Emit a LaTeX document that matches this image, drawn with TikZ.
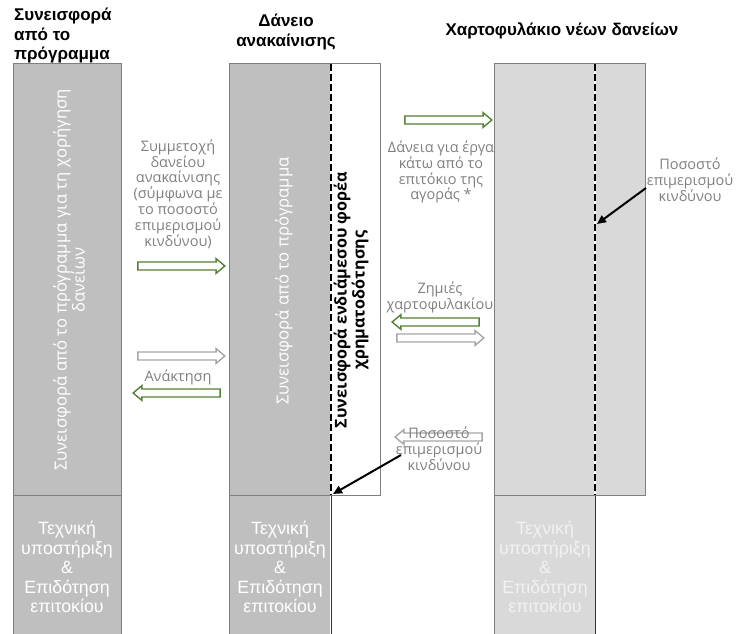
\documentclass[tikz,border=0pt]{standalone}
\usepackage{fontspec}
\setmainfont{Liberation Sans}
\newfontfamily\gothic{Open Sans}
\usetikzlibrary{shapes.arrows,arrows.meta}
\definecolor{fillA}{HTML}{BFBFBF}
\definecolor{fillB}{HTML}{D9D9D9}
\definecolor{edgec}{HTML}{7F7F7F}
\definecolor{txtgray}{HTML}{808080}
\definecolor{arrgreen}{HTML}{548235}
\definecolor{arrgray}{HTML}{A6A6A6}
\definecolor{paletxt}{HTML}{F2F2F2}
\begin{document}
\begin{tikzpicture}[x=1pt,y=-1pt,
  colbox/.style={draw=edgec,line width=1pt},
  blockarrow/.style={single arrow,minimum height=87pt,inner xsep=0pt,inner ysep=3.3pt,
    single arrow head extend=3.4pt,single arrow tip angle=80,fill=white,line width=1.4pt},
  greenarrow/.style={blockarrow,draw=arrgreen},
  grayarrow/.style={blockarrow,draw=arrgray},
  leftward/.style={shape border rotate=180},
  lbl/.style={text=txtgray,font=\gothic\fontsize{14.5}{15.8}\selectfont,align=center,inner sep=0pt},
  head/.style={font=\bfseries\fontsize{17}{19.5}\selectfont,inner sep=0pt},
  vtext/.style={rotate=90,font=\gothic\fontsize{16.7}{18}\selectfont,align=center,inner sep=0pt},
  foot/.style={font=\fontsize{17.8}{19.5}\selectfont,align=center,inner sep=0pt},
  riskline/.style={dash pattern=on 7pt off 3pt,line width=2.3pt},
  pointer/.style={line width=2pt,-{Triangle[length=9pt,width=8pt]}}]
\useasboundingbox (0,0) rectangle (737,634);

% headers
\node[head,anchor=west,align=left] (h1) at (14,36) {Συνεισφορά\\από το\\πρόγραμμα};
\node[head,align=center] (h2) at (286,32) {Δάνειο\\ανακαίνισης};
\node[head] (h3) at (562,31) {Χαρτοφυλάκιο νέων δανείων};

% column 1
\fill[fillA] (13,64) rectangle (121,634);
\draw[colbox] (13,634) -- (13,64) -- (121,64) -- (121,634);
\draw[colbox] (13,495.5) -- (121,495.5);
\node[vtext,text=white] (c1) at (69,280) {Συνεισφορά από το πρόγραμμα για τη χορήγηση\\δανείων};
\node[foot,text=white] (f1) at (67,567) {Τεχνική\\υποστήριξη\\\&\\Επιδότηση\\επιτοκίου};

% column 2
\fill[fillA] (229,64) rectangle (330,634);
\fill[white] (330,64) rectangle (380,495.5);
\draw[colbox] (229,634) -- (229,64) -- (380,64) -- (380,495.5) -- (229,495.5);
\draw[line width=1pt,black!80] (331,495.5) -- (331,634);
\draw[white,line width=2.3pt] (331,64) -- (331,495);
\draw[riskline] (331,64) -- (331,495);
\node[vtext,text=white] (c2) at (284,281) {Συνεισφορά από το πρόγραμμα};
\node[vtext,font=\gothic\bfseries\fontsize{16.2}{18}\selectfont] (c2b) at (351,300) {Συνεισφορά ενδιάμεσου φορέα\\χρηματοδότησης};
\node[foot,text=white] (f2) at (280,567) {Τεχνική\\υποστήριξη\\\&\\Επιδότηση\\επιτοκίου};

% column 3
\fill[fillB] (494,64) rectangle (645,495.5);
\fill[fillB] (494,495.5) rectangle (595,634);
\draw[colbox] (494,634) -- (494,64) -- (645,64) -- (645,495.5) -- (494,495.5);
\draw[line width=1pt,black!80] (595,495.5) -- (595,634);
\draw[white,line width=2.3pt] (595,64) -- (595,495);
\draw[riskline] (595,64) -- (595,495);
\node[foot,text=paletxt] (f3) at (545,567) {Τεχνική\\υποστήριξη\\\&\\Επιδότηση\\επιτοκίου};

% left gap labels and arrows
\node[lbl] (l1) at (178,194) {Συμμετοχή\\δανείου\\ανακαίνισης\\(σύμφωνα με\\το ποσοστό\\επιμερισμού\\κινδύνου)};
\node[greenarrow] (a1) at (179,266) {};
\node[grayarrow] (a2) at (179,356) {};
\node[lbl] (l2) at (178,377) {Ανάκτηση};
\node[greenarrow,leftward] (a3) at (179,393) {};

% middle gap labels and arrows
\node[greenarrow] (a4) at (446,120) {};
\node[lbl] (l3) at (441,172) {Δάνεια για έργα\\κάτω από το\\επιτόκιο της\\αγοράς *};
\node[lbl] (l4) at (440,297) {Ζημιές\\χαρτοφυλακίου};
\node[greenarrow,leftward] (a5) at (438,322) {};
\node[grayarrow] (a6) at (438,338) {};
\node[grayarrow,leftward] (a7) at (441,437) {};
\node[lbl] (l5) at (439,449) {Ποσοστό\\επιμερισμού\\κινδύνου};
\coordinate (p1s) at (401,455);
\coordinate (p1e) at (333,494);
\draw[pointer] (p1s) -- (p1e);

% right labels
\node[lbl] (l6) at (690,180) {Ποσοστό\\επιμερισμού\\κινδύνου};
\coordinate (p2s) at (646,188);
\coordinate (p2e) at (597,224);
\draw[pointer] (p2s) -- (p2e);
\end{tikzpicture}
\end{document}
